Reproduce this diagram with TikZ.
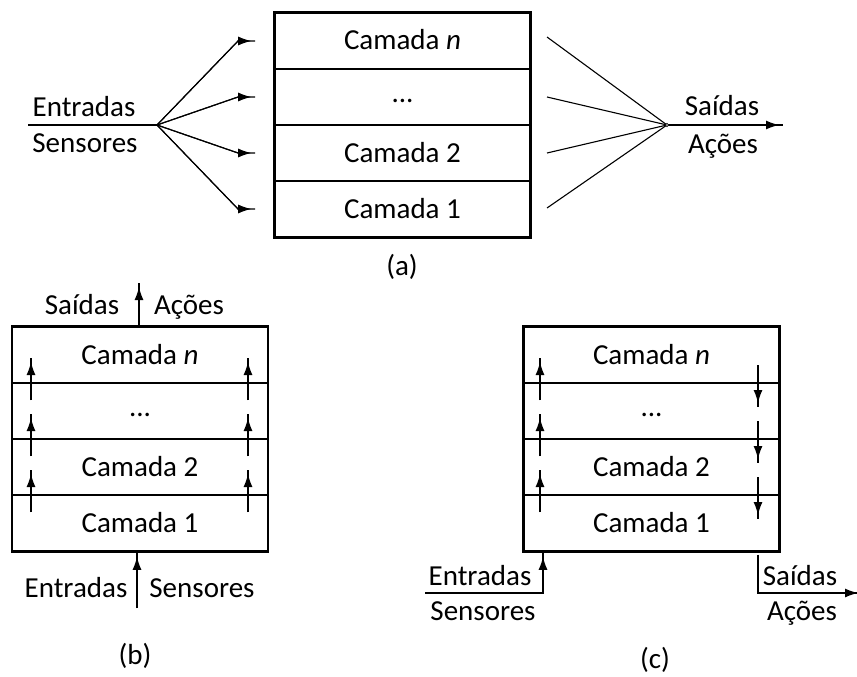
\documentclass[tikz,border=0pt]{standalone}
\usepackage{fontspec}
\setmainfont{Carlito}
\usetikzlibrary{arrows.meta,calc}
\begin{document}
\begin{tikzpicture}[x=1pt,y=-1pt,
  font=\fontsize{29}{34}\selectfont,
  camada/.style={draw,line width=1.6pt,minimum width=255pt,minimum height=56pt,inner sep=0pt,text height=18pt,text depth=0pt},
  dotrow/.style={camada,text height=11pt},
  frame/.style={draw,line width=2pt},
  wire/.style={line width=1.3pt},
  fanline/.style={line width=1.1pt},
  tipmark/.style={-{Latex[length=13pt,width=9pt]},shorten >=4pt,postaction={draw,arrows=-,shorten >=0pt}},
  lbl/.style={anchor=base,inner sep=0pt},
  figcap/.style={inner sep=0pt},
]
\useasboundingbox (0,0) rectangle (857,677);

% ---------------- (a)
\node[camada] (a4) at (402.5,41) {Camada \textit{n}};
\node[dotrow] (a3) at (402.5,97) {...};
\node[camada] (a2) at (402.5,153) {Camada 2};
\node[camada] (a1) at (402.5,209) {Camada 1};
\draw[frame] (a4.north west) rectangle (a1.south east);

\coordinate (inA) at (28,125);
\coordinate (fanA) at (157,125);
\draw[wire] (inA) -- (fanA);
\foreach \r/\y in {a4/41,a3/97,a2/153,a1/209}
  \draw[fanline,tipmark] (fanA) -- (238,\y) -- ($(\r.west)+(-19,0)$);

\coordinate (fanB) at (667,125);
\coordinate (outA) at (783,125);
\coordinate (sA4) at (547,37);
\coordinate (sA3) at (547,97);
\coordinate (sA2) at (547,153);
\coordinate (sA1) at (547,208);
\foreach \s in {sA4,sA3,sA2,sA1}
  \draw[fanline] (\s) -- (fanB);
\draw[wire,tipmark] (fanB) -- (outA);
\draw[line width=0.8pt,fill=white] (fanB) circle (1.6pt);

\node[lbl] (aEnt) at (84,117) {Entradas};
\node[lbl] (aSen) at (85,152) {Sensores};
\node[lbl] (aSai) at (722,115) {Saídas};
\node[lbl] (aAco) at (723,153) {Ações};
\node[figcap] (capA) at (402,267) {(a)};

% ---------------- (b)
\node[camada] (b4) at (140,355) {Camada \textit{n}};
\node[dotrow] (b3) at (140,411) {...};
\node[camada] (b2) at (140,467) {Camada 2};
\node[camada] (b1) at (140,523) {Camada 1};
\draw[frame] (b4.north west) rectangle (b1.south east);

\foreach \b in {383,439,495}{
  \draw[wire,tipmark] (31,\b+17) -- (31,\b-25);
  \draw[wire,tipmark] (248,\b+17) -- (248,\b-25);
}
\coordinate (bOut) at (139,283);
\draw[wire,tipmark] (b4.north -| bOut) -- (bOut);
\coordinate (bIn) at (137,608);
\draw[wire,tipmark] (bIn) -- ($(b1.south -| bIn)+(0,1)$);

\node[lbl] (bSai) at (82,314) {Saídas};
\node[lbl] (bAco) at (189,314) {Ações};
\node[lbl] (bEnt) at (76,597) {Entradas};
\node[lbl] (bSen) at (202,597) {Sensores};
\node[figcap] (capB) at (135,656) {(b)};

% ---------------- (c)
\node[camada] (c4) at (651.5,355) {Camada \textit{n}};
\node[dotrow] (c3) at (651.5,411) {...};
\node[camada] (c2) at (651.5,467) {Camada 2};
\node[camada] (c1) at (651.5,523) {Camada 1};
\draw[frame] (c4.north west) rectangle (c1.south east);

\foreach \b in {383,439,495}{
  \draw[wire,tipmark] (540,\b+17) -- (540,\b-25);
  \draw[wire,tipmark] (758,\b-18) -- (758,\b+24);
}
\coordinate (cIn) at (425,593);
\coordinate (cInC) at (543,593);
\draw[wire,tipmark] (cIn) -- (cInC) -- ($(c1.south -| cInC)+(0,1)$);
\coordinate (cOutC) at (758,593);
\coordinate (cOut) at (862,593);
\draw[wire,tipmark] ($(c1.south -| cOutC)+(0,3)$) -- (cOutC) -- (cOut);

\node[lbl] (cEnt) at (480,585) {Entradas};
\node[lbl] (cSen) at (483,620) {Sensores};
\node[lbl] (cSai) at (800,585) {Saídas};
\node[lbl] (cAco) at (802,620) {Ações};
\node[figcap] (capC) at (655,660) {(c)};
\end{tikzpicture}
\end{document}
